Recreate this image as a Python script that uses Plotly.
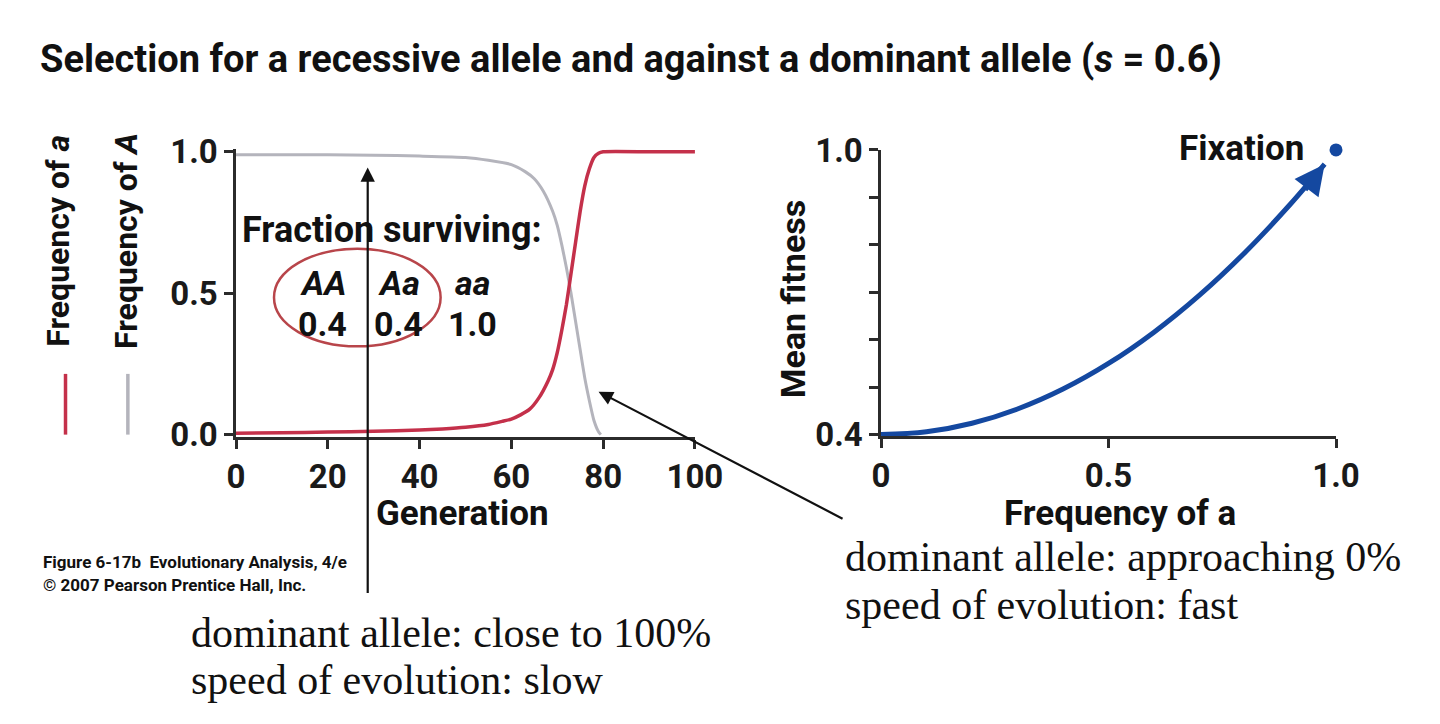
import plotly.graph_objects as go

# ---------------- data ----------------
gen_a = [0, 10, 20, 30, 40, 45, 50, 55, 58, 60, 62, 64, 66, 68, 69, 70, 71, 72, 73, 74, 75, 76, 77, 78, 79, 80, 90, 100]
freq_a = [0.005, 0.007, 0.009, 0.012, 0.016, 0.02, 0.026, 0.036, 0.047, 0.055, 0.07, 0.09, 0.13, 0.19, 0.23, 0.29,
          0.37, 0.46, 0.57, 0.68, 0.79, 0.88, 0.94, 0.98, 0.995, 1.0, 1.0, 1.0]

gen_A = [0, 10, 20, 30, 40, 50, 55, 60, 63, 65, 67, 69, 70, 71, 72, 73, 74, 75, 76, 77, 78, 79, 79.5]
freq_A = [0.99, 0.99, 0.99, 0.988, 0.985, 0.98, 0.97, 0.955, 0.93, 0.905, 0.86, 0.79, 0.74, 0.67, 0.59, 0.5, 0.4,
          0.3, 0.2, 0.12, 0.05, 0.01, 0.0]

q_a = [0, 0.1, 0.2, 0.3, 0.4, 0.5, 0.6, 0.7, 0.8, 0.9, 0.975]
mean_fitness = [0.4, 0.406, 0.424, 0.454, 0.496, 0.55, 0.616, 0.694, 0.784, 0.886, 0.97]
fixation = (1.0, 1.0)

genotypes = ["<i>AA</i>", "<i>Aa</i>", "<i>aa</i>"]
surviving = ["0.4", "0.4", "1.0"]

left_xticks = [0, 20, 40, 60, 80, 100]
left_yticks = [0.0, 0.5, 1.0]
left_yticktext = ["0.0", "0.5", "1.0"]
right_xticks = [0, 0.5, 1.0]
right_xticktext = ["0", "0.5", "1.0"]
right_yticks = [0.4, 0.5, 0.6, 0.7, 0.8, 0.9, 1.0]
right_yticktext = ["0.4", "", "", "", "", "", "1.0"]

# ---------------- style ----------------
RED = "#c4304a"
GRAY = "#b4b4bc"
BLUE = "#1448a0"
AX = "#2b2b2b"
SANS = "Roboto, 'Open Sans', Arial, sans-serif"
SERIF = "'Liberation Serif', 'DejaVu Serif', serif"
W, H = 1440, 724


def px(x):
    return x / W


def py(y):
    return 1 - y / H


fig = go.Figure()

fig.add_trace(go.Scatter(x=gen_A, y=freq_A, mode="lines", line=dict(color=GRAY, width=3, shape="spline", smoothing=0.5),
                         xaxis="x", yaxis="y", showlegend=False))
fig.add_trace(go.Scatter(x=gen_a, y=freq_a, mode="lines", line=dict(color=RED, width=3.5, shape="spline", smoothing=0.5),
                         xaxis="x", yaxis="y", showlegend=False))
fig.add_trace(go.Scatter(x=q_a, y=mean_fitness, mode="lines", line=dict(color=BLUE, width=5, shape="spline"),
                         xaxis="x2", yaxis="y2", showlegend=False))
fig.add_trace(go.Scatter(x=[fixation[0]], y=[fixation[1]], mode="markers", marker=dict(color=BLUE, size=13),
                         cliponaxis=False, xaxis="x2", yaxis="y2", showlegend=False))

axis_common = dict(showline=True, linecolor=AX, linewidth=2.5, ticks="outside", ticklen=9, tickwidth=2.5,
                   tickcolor=AX, showgrid=False, zeroline=False, fixedrange=True,
                   tickfont=dict(family=SANS, size=33, color="#1a1a1a", weight="bold"))

fig.update_layout(
    width=W, height=H, margin=dict(l=0, r=0, t=0, b=0),
    paper_bgcolor="white", plot_bgcolor="white",
    xaxis=dict(domain=[px(233), px(704)], range=[0, 100], tickvals=left_xticks, anchor="y", **axis_common),
    yaxis=dict(domain=[py(440.4), py(137)], range=[-0.008, 1.01], tickvals=left_yticks, ticktext=left_yticktext,
               anchor="x", **axis_common),
    xaxis2=dict(domain=[px(895), px(1362)], range=[0, 1], tickvals=right_xticks, ticktext=right_xticktext,
                anchor="y2", **axis_common),
    yaxis2=dict(domain=[py(439.5), py(138)], range=[0.397, 1.0], tickvals=right_yticks, ticktext=right_yticktext,
                anchor="x2", **axis_common),
)

ann = []


def text(x, y, s, size, xanchor="center", family=SANS, angle=0, color="#111"):
    ann.append(dict(xref="paper", yref="paper", x=px(x), y=py(y), text=s, showarrow=False, xanchor=xanchor,
                    yanchor="middle", textangle=angle, font=dict(family=family, size=size, color=color)))


text(30, 42, "<b>Selection for a recessive allele and against a dominant allele (<i>s</i> = 0.6)</b>", 38, "left")
text(50, 234, "<b>Frequency of <i>a</i></b>", 32, angle=-90)
text(120, 234, "<b>Frequency of <i>A</i></b>", 32, angle=-90)
text(465, 521, "<b>Generation</b>", 35)
text(1140, 521, "<b>Frequency of a</b>", 35)
text(805, 295, "<b>Mean fitness</b>", 34, angle=-90)
text(1332, 137, "<b>Fixation</b>", 35, "right")
text(393, 222, "<b>Fraction surviving:</b>", 36)
for cx, g, v in zip([322, 400, 476], genotypes, surviving):
    text(cx, 278, "<b>" + g + "</b>", 34)
    text(cx, 321, "<b>" + v + "</b>", 34)
text(33, 572, "<b>Figure 6-17b  Evolutionary Analysis, 4/e</b>", 17, "left")
text(33, 596, "<b>© 2007 Pearson Prentice Hall, Inc.</b>", 17, "left")
text(185, 647, "dominant allele: close to 100%", 42, "left", SERIF)
text(185, 697, "speed of evolution: slow", 42, "left", SERIF)
text(856, 567, "dominant allele: approaching 0%", 42, "left", SERIF)
text(856, 618, "speed of evolution: fast", 42, "left", SERIF)

# arrows (in data coordinates of the left panel)
ann.append(dict(xref="x", yref="y", axref="x", ayref="y", x=28.7, y=0.945, ax=28.7, ay=-0.565, text="",
                showarrow=True, arrowhead=2, arrowsize=1.3, arrowwidth=2.2, arrowcolor="#111", standoff=0))
ann.append(dict(xref="x", yref="y", axref="x", ayref="y", x=79.0, y=0.152, ax=132.5, ay=-0.30, text="",
                showarrow=True, arrowhead=2, arrowsize=1.3, arrowwidth=2.2, arrowcolor="#111", standoff=0))
# arrowhead at the end of the fitness curve
ann.append(dict(xref="x2", yref="y2", axref="x2", ayref="y2", x=q_a[-1], y=mean_fitness[-1], ax=0.93,
                ay=0.913, text="", showarrow=True, arrowhead=2, arrowsize=1.2, arrowwidth=5,
                arrowcolor=BLUE, standoff=0))

fig.update_layout(annotations=ann)

# ellipse and legend swatches
fig.add_shape(type="circle", xref="paper", yref="paper", x0=px(272), x1=px(443), y0=py(345), y1=py(242),
              line=dict(color="#b8454a", width=2.5))
fig.add_shape(type="line", xref="paper", yref="paper", x0=px(58), x1=px(58), y0=py(374), y1=py(438),
              line=dict(color=RED, width=3.5))
fig.add_shape(type="line", xref="paper", yref="paper", x0=px(122), x1=px(122), y0=py(374), y1=py(438),
              line=dict(color=GRAY, width=3.5))

fig.write_html("out.html")
